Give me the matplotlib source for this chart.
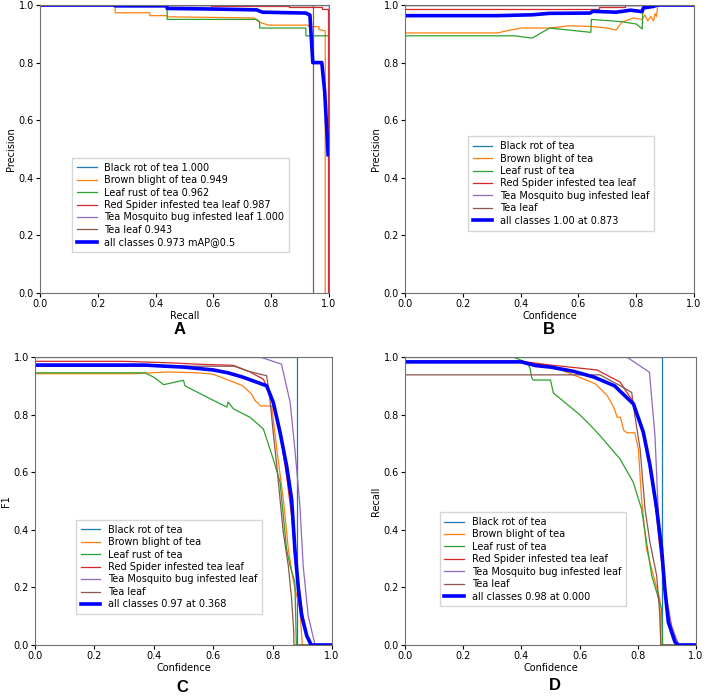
import matplotlib
matplotlib.use("Agg")
import matplotlib.pyplot as plt

# class names and panel letters
names = ["Black rot of tea", "Brown blight of tea", "Leaf rust of tea",
         "Red Spider infested tea leaf", "Tea Mosquito bug infested leaf", "Tea leaf"]
ap_values = ["1.000", "0.949", "0.962", "0.987", "1.000", "0.943"]
colors = ["tab:blue", "tab:orange", "tab:green", "tab:red", "tab:purple", "tab:brown"]

# ---- A: precision-recall ----
a_black_x = [0, 1.0, 1.0]
a_black_y = [1.0, 1.0, 0.0]
a_brown_x = [0, 0.26, 0.26, 0.38, 0.38, 0.44, 0.44, 0.74, 0.76, 0.79, 0.93, 0.93, 0.965, 0.965, 0.987, 0.987]
a_brown_y = [1.0, 1.0, 0.973, 0.973, 0.963, 0.963, 0.959, 0.955, 0.94, 0.93, 0.93, 0.925, 0.925, 0.915, 0.91, 0.0]
a_rust_x = [0, 0.44, 0.44, 0.75, 0.76, 0.76, 0.92, 0.92, 1.0, 1.0]
a_rust_y = [1.0, 1.0, 0.95, 0.95, 0.94, 0.92, 0.92, 0.893, 0.893, 0.0]
a_spider_x = [0, 0.59, 0.59, 0.86, 0.86, 0.975, 0.975, 0.995, 0.995]
a_spider_y = [1.0, 1.0, 0.996, 0.996, 0.992, 0.992, 0.985, 0.985, 0.0]
a_mosq_x = [0, 1.0, 1.0]
a_mosq_y = [1.0, 1.0, 0.0]
a_leaf_x = [0, 0.946, 0.946]
a_leaf_y = [1.0, 1.0, 0.0]
a_all_x = [0, 0.26, 0.26, 0.44, 0.44, 0.6, 0.75, 0.77, 0.92, 0.934, 0.944, 0.975, 0.985, 0.997]
a_all_y = [1.0, 1.0, 0.997, 0.997, 0.988, 0.986, 0.983, 0.975, 0.972, 0.965, 0.8, 0.8, 0.7, 0.48]

# ---- B: precision-confidence ----
b_black_x = [0, 1.0]
b_black_y = [1.0, 1.0]
b_brown_x = [0, 0.32, 0.36, 0.40, 0.50, 0.57, 0.65, 0.70, 0.73, 0.75, 0.79, 0.82, 0.83, 0.84, 0.85, 0.86, 0.865, 0.87, 0.875, 1.0]
b_brown_y = [0.903, 0.903, 0.912, 0.92, 0.92, 0.928, 0.925, 0.92, 0.913, 0.94, 0.955, 0.95, 0.965, 0.945, 0.96, 0.945, 0.97, 0.96, 1.0, 1.0]
b_rust_x = [0, 0.38, 0.44, 0.50, 0.643, 0.645, 0.75, 0.80, 0.821, 0.823, 0.83, 1.0]
b_rust_y = [0.893, 0.893, 0.885, 0.92, 0.905, 0.95, 0.942, 0.934, 0.917, 0.99, 1.0, 1.0]
b_spider_x = [0, 0.67, 0.67, 0.76, 0.76, 1.0]
b_spider_y = [0.985, 0.985, 0.992, 0.992, 1.0, 1.0]
b_mosq_x = [0, 1.0]
b_mosq_y = [1.0, 1.0]
b_leaf_x = [0, 1.0]
b_leaf_y = [1.0, 1.0]
b_all_x = [0, 0.32, 0.44, 0.50, 0.64, 0.65, 0.73, 0.78, 0.82, 0.825, 0.86, 0.873, 1.0]
b_all_y = [0.963, 0.963, 0.966, 0.971, 0.972, 0.978, 0.975, 0.982, 0.977, 0.99, 0.995, 1.0, 1.0]

# ---- C: F1-confidence ----
c_black_x = [0, 0.882, 0.882, 1.0]
c_black_y = [1.0, 1.0, 0.0, 0.0]
c_brown_x = [0, 0.33, 0.45, 0.55, 0.60, 0.65, 0.70, 0.73, 0.74, 0.76, 0.79, 0.797, 0.814, 0.836, 0.853, 0.87, 0.892, 0.90, 1.0]
c_brown_y = [0.942, 0.942, 0.948, 0.945, 0.94, 0.92, 0.9, 0.87, 0.85, 0.83, 0.83, 0.83, 0.68, 0.507, 0.333, 0.22, 0.125, 0.0, 0.0]
c_rust_x = [0, 0.37, 0.40, 0.433, 0.50, 0.505, 0.58, 0.646, 0.65, 0.668, 0.725, 0.769, 0.802, 0.825, 0.836, 0.847, 0.859, 0.875, 0.88, 1.0]
c_rust_y = [0.945, 0.945, 0.93, 0.904, 0.919, 0.9, 0.86, 0.826, 0.844, 0.82, 0.79, 0.75, 0.646, 0.566, 0.449, 0.333, 0.274, 0.219, 0.0, 0.0]
c_spider_x = [0, 0.30, 0.45, 0.55, 0.668, 0.72, 0.769, 0.802, 0.825, 0.847, 0.864, 0.881, 0.898, 0.915, 0.926, 1.0]
c_spider_y = [0.985, 0.985, 0.98, 0.975, 0.971, 0.95, 0.923, 0.843, 0.739, 0.588, 0.449, 0.274, 0.125, 0.03, 0.0, 0.0]
c_mosq_x = [0, 0.758, 0.83, 0.859, 0.875, 0.892, 0.903, 0.92, 0.943, 1.0]
c_mosq_y = [1.0, 1.0, 0.975, 0.843, 0.68, 0.483, 0.274, 0.1, 0.0, 0.0]
c_leaf_x = [0, 0.67, 0.72, 0.78, 0.791, 0.802, 0.814, 0.825, 0.836, 0.853, 0.864, 0.871, 0.872, 1.0]
c_leaf_y = [0.968, 0.968, 0.95, 0.935, 0.854, 0.739, 0.623, 0.507, 0.391, 0.274, 0.16, 0.05, 0.0, 0.0]
c_all_x = [0, 0.37, 0.44, 0.5, 0.6, 0.65, 0.7, 0.78, 0.802, 0.825, 0.847, 0.864, 0.875, 0.887, 0.898, 0.915, 0.93, 1.0]
c_all_y = [0.972, 0.972, 0.968, 0.965, 0.955, 0.945, 0.93, 0.9, 0.843, 0.739, 0.623, 0.507, 0.333, 0.194, 0.102, 0.032, 0.0, 0.0]

# ---- D: recall-confidence ----
d_black_x = [0, 0.884, 0.884, 1.0]
d_black_y = [1.0, 1.0, 0.0, 0.0]
d_brown_x = [0, 0.40, 0.50, 0.654, 0.694, 0.717, 0.729, 0.74, 0.752, 0.763, 0.79, 0.802, 0.813, 0.83, 0.859, 0.876, 0.879, 1.0]
d_brown_y = [0.983, 0.983, 0.97, 0.907, 0.867, 0.826, 0.791, 0.791, 0.745, 0.737, 0.737, 0.68, 0.507, 0.333, 0.22, 0.16, 0.0, 0.0]
d_rust_x = [0, 0.372, 0.42, 0.43, 0.435, 0.44, 0.50, 0.51, 0.60, 0.64, 0.67, 0.739, 0.784, 0.813, 0.83, 0.848, 0.882, 0.885, 1.0]
d_rust_y = [1.0, 1.0, 0.98, 0.96, 0.93, 0.92, 0.92, 0.875, 0.8, 0.76, 0.727, 0.646, 0.566, 0.472, 0.356, 0.24, 0.125, 0.0, 0.0]
d_spider_x = [0, 0.40, 0.50, 0.66, 0.739, 0.785, 0.819, 0.853, 0.876, 0.899, 0.922, 0.93, 1.0]
d_spider_y = [0.985, 0.985, 0.972, 0.955, 0.913, 0.843, 0.726, 0.566, 0.333, 0.149, 0.03, 0.0, 0.0]
d_mosq_x = [0, 0.762, 0.84, 0.859, 0.871, 0.888, 0.916, 0.94, 1.0]
d_mosq_y = [1.0, 1.0, 0.947, 0.727, 0.449, 0.22, 0.068, 0.0, 0.0]
d_leaf_x = [0, 0.67, 0.74, 0.779, 0.79, 0.808, 0.825, 0.842, 0.865, 0.876, 0.879, 1.0]
d_leaf_y = [0.938, 0.938, 0.9, 0.877, 0.796, 0.68, 0.47, 0.356, 0.24, 0.10, 0.0, 0.0]
d_all_x = [0, 0.40, 0.45, 0.5, 0.58, 0.65, 0.72, 0.785, 0.819, 0.842, 0.865, 0.882, 0.893, 0.905, 0.928, 0.94, 1.0]
d_all_y = [0.983, 0.983, 0.97, 0.965, 0.95, 0.93, 0.9, 0.837, 0.739, 0.623, 0.472, 0.333, 0.194, 0.079, 0.01, 0.0, 0.0]

plt.rcParams["font.size"] = 7

fig = plt.figure(figsize=(7.08, 6.98), dpi=100)


def draw_panel(rect, curves, all_curve, labels, all_label, xlabel, ylabel, legend_xy, letter, letter_xy):
    ax = fig.add_axes(rect)
    for (x, y), c, lab in zip(curves, colors, labels):
        ax.plot(x, y, color=c, linewidth=0.9, label=lab)
    ax.plot(all_curve[0], all_curve[1], color="blue", linewidth=2.6, label=all_label)
    ax.set_xlim(0, 1)
    ax.set_ylim(0, 1)
    ax.set_xlabel(xlabel, labelpad=1)
    ax.set_ylabel(ylabel, labelpad=2)
    ax.tick_params(length=3, pad=1.5)
    for s in ax.spines.values():
        s.set_color("#707070")
    ax.legend(loc="lower left", bbox_to_anchor=legend_xy, fontsize=7, handlelength=2.0,
              labelspacing=0.25, borderpad=0.5, frameon=True, fancybox=False)
    fig.text(letter_xy[0], letter_xy[1], letter, fontsize=12, fontweight="bold",
             family="Liberation Sans", ha="center", va="center")
    return ax


W, H = 708, 698

draw_panel([40 / W, (H - 293) / H, 289 / W, 288 / H],
           [(a_black_x, a_black_y), (a_brown_x, a_brown_y), (a_rust_x, a_rust_y),
            (a_spider_x, a_spider_y), (a_mosq_x, a_mosq_y), (a_leaf_x, a_leaf_y)],
           (a_all_x, a_all_y),
           [n + " " + v for n, v in zip(names, ap_values)], "all classes 0.973 mAP@0.5",
           "Recall", "Precision", (0.095, 0.125), "A", (180 / W, 1 - 330 / H))

draw_panel([405 / W, (H - 293) / H, 289 / W, 288 / H],
           [(b_black_x, b_black_y), (b_brown_x, b_brown_y), (b_rust_x, b_rust_y),
            (b_spider_x, b_spider_y), (b_mosq_x, b_mosq_y), (b_leaf_x, b_leaf_y)],
           (b_all_x, b_all_y),
           names, "all classes 1.00 at 0.873",
           "Confidence", "Precision", (0.2, 0.2), "B", (549 / W, 1 - 330 / H))

draw_panel([35 / W, (H - 645) / H, 297 / W, 288 / H],
           [(c_black_x, c_black_y), (c_brown_x, c_brown_y), (c_rust_x, c_rust_y),
            (c_spider_x, c_spider_y), (c_mosq_x, c_mosq_y), (c_leaf_x, c_leaf_y)],
           (c_all_x, c_all_y),
           names, "all classes 0.97 at 0.368",
           "Confidence", "F1", (0.122, 0.09), "C", (182 / W, 1 - 687 / H))

draw_panel([405 / W, (H - 645) / H, 291 / W, 288 / H],
           [(d_black_x, d_black_y), (d_brown_x, d_brown_y), (d_rust_x, d_rust_y),
            (d_spider_x, d_spider_y), (d_mosq_x, d_mosq_y), (d_leaf_x, d_leaf_y)],
           (d_all_x, d_all_y),
           names, "all classes 0.98 at 0.000",
           "Confidence", "Recall", (0.102, 0.117), "D", (555 / W, 1 - 686 / H))

fig.savefig("out.png", dpi=100)
